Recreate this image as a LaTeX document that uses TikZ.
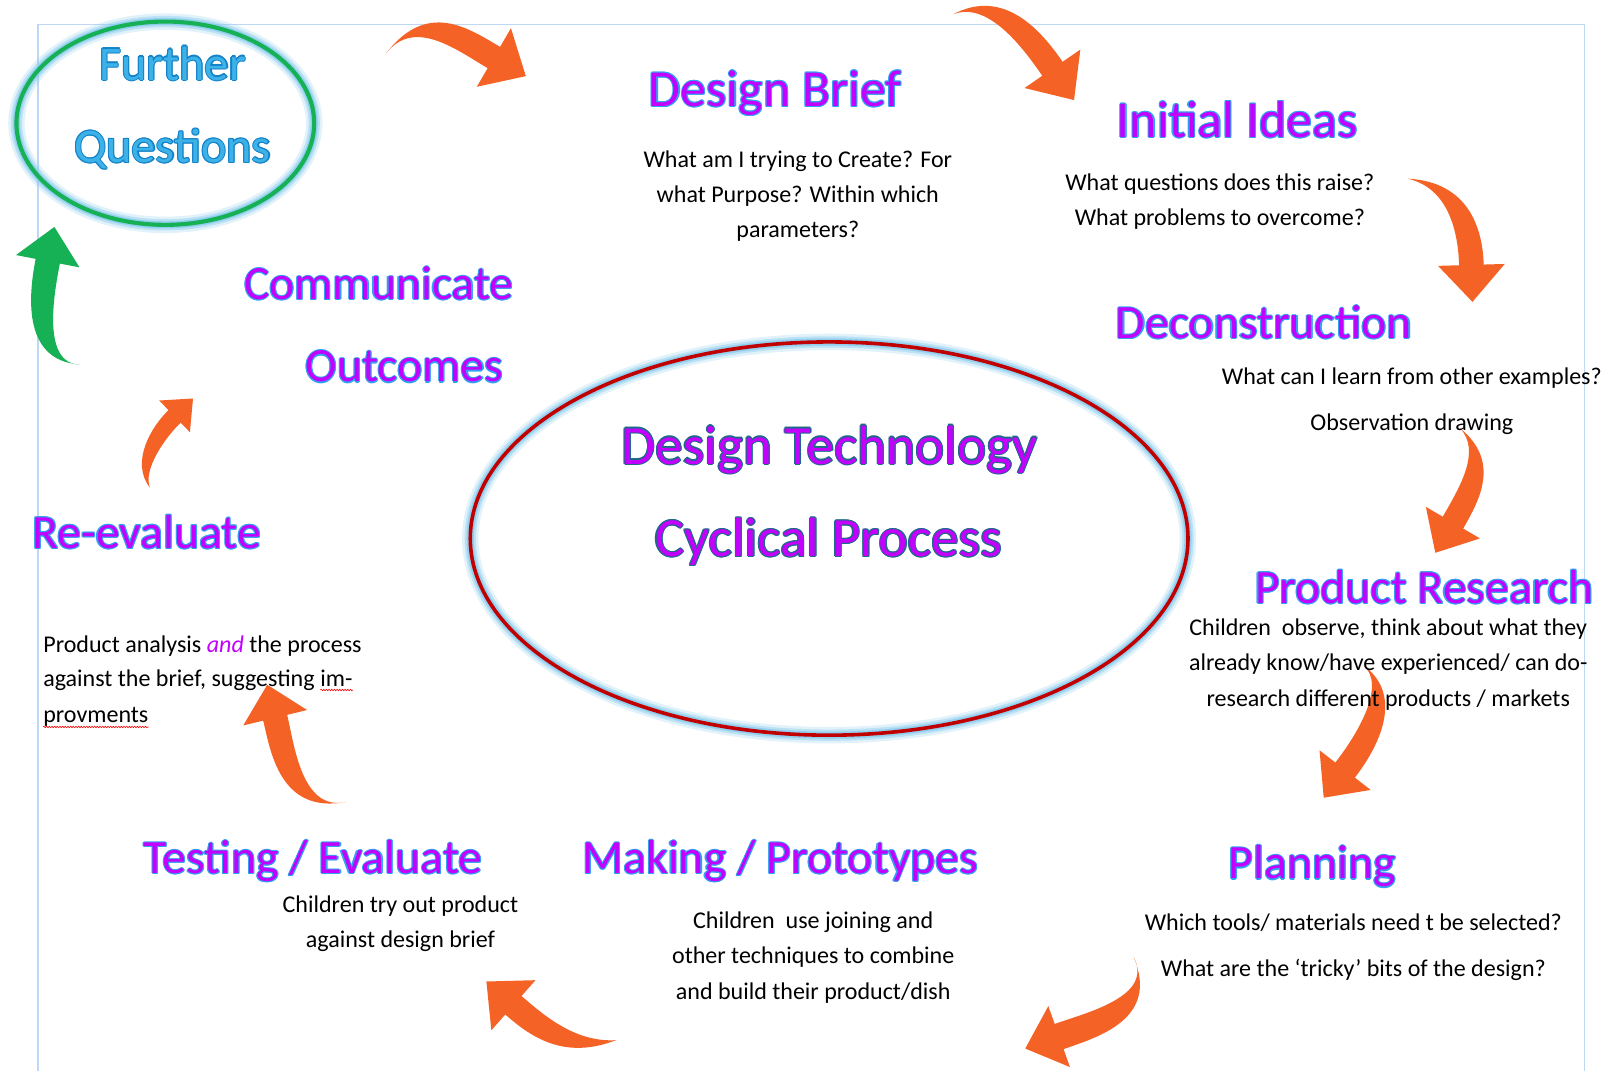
\documentclass[tikz,border=0pt]{standalone}
\usepackage{fontspec}
\setmainfont{Carlito}
\usetikzlibrary{calc,decorations.pathmorphing}
\definecolor{orng}{RGB}{245,98,37}
\definecolor{grn}{RGB}{22,176,85}
\definecolor{hfill}{RGB}{196,0,255}
\definecolor{hline}{RGB}{50,160,240}
\definecolor{cline}{RGB}{30,105,135}
\definecolor{fqfill}{RGB}{60,178,232}
\definecolor{fqline}{RGB}{20,130,200}
\definecolor{glowc}{RGB}{140,205,238}
\definecolor{dred}{RGB}{192,0,0}
\definecolor{marginc}{RGB}{190,215,245}
\tikzset{
 bodytxt/.style={font=\fontsize{23.4}{34}\selectfont, inner sep=0pt, anchor=base, text=black},
 hd/.style={font=\fontsize{46.5}{56}\selectfont, inner sep=0pt, anchor=base},
 hdbig/.style={font=\fontsize{50.5}{60}\selectfont, inner sep=0pt, anchor=base},
 ct/.style={font=\fontsize{53.8}{64}\selectfont, inner sep=0pt, anchor=base},
 fq/.style={font=\fontsize{47}{56}\selectfont, inner sep=0pt, anchor=base},
 arr/.style={fill=orng},
 garr/.style={fill=grn},
 wavy/.style={red, line width=0.6pt, decorate, decoration={snake, amplitude=0.7pt, segment length=2.6pt}},
}
% name, coordinate, style, outline colour, fill colour, text
\newcommand\glowtext[6]{%
 \foreach \a in {0,45,...,315}{\node[#3, text=#4] at ([shift={(\a:1.1pt)}]#2) {#6};}
 \node[#3, text=#5] (#1) at (#2) {#6};}
% style, tail, c1, c2, base, half body width, half head width, head length
\newcommand\carrow[8]{%
 \fill[#1] (#2) .. controls ($(#3)!#6*0.9!90:(#4)$) and ($(#4)!#6!90:(#5)$) .. ($(#5)!#6!-90:(#4)$)
   -- ($(#5)!#7!-90:(#4)$) -- ($(#5)!-#8!(#4)$) -- ($(#5)!#7!90:(#4)$) -- ($(#5)!#6!90:(#4)$)
   .. controls ($(#4)!#6!-90:(#5)$) and ($(#3)!#6*0.9!-90:(#4)$) .. (#2) -- cycle;}
% centre, rx, ry, colour, width
\newcommand\glowellipse[5]{%
 \draw[glowc, line width=16pt, opacity=.25] (#1) ellipse [x radius=#2, y radius=#3];
 \draw[glowc, line width=11pt, opacity=.45] (#1) ellipse [x radius=#2, y radius=#3];
 \draw[glowc, line width=7pt, opacity=.85] (#1) ellipse [x radius=#2, y radius=#3];
 \draw[#4, line width=#5] (#1) ellipse [x radius=#2, y radius=#3];}
\begin{document}
\begin{tikzpicture}[x=1pt,y=-1pt]
\useasboundingbox (0,0) rectangle (1568,1043);
\fill[white] (0,0) rectangle (1568,1043);
\draw[marginc, line width=1pt] (37,1043) -- (37,24) -- (1543,24) -- (1543,1043);
% ellipses
\coordinate (fqc) at (161,120);
\coordinate (cc) at (807.5,524.5);
\glowellipse{fqc}{145}{99}{grn}{4pt}
\glowellipse{cc}{349.5}{191.5}{dred}{3.5pt}
% arrows
\carrow{arr}{376,52}{410,8}{451,38.5}{481,56}{12pt}{33pt}{36pt}
\carrow{arr}{928,14}{970,-6}{1005,38}{1025,67}{12pt}{33pt}{37pt}
\carrow{arr}{1371,174}{1420,180}{1432,223}{1433,258}{12pt}{32.5pt}{36pt}
\carrow{arr}{1422,417}{1451.5,444}{1432.5,479}{1415,509}{11.5pt}{30.5pt}{34pt}
\carrow{arr}{1328,648}{1359.6,673}{1331.7,722}{1310,750}{12pt}{31.5pt}{34pt}
\carrow{arr}{1104,932}{1127,981.5}{1064,998}{1031.5,1009.5}{13pt}{31.5pt}{35pt}
\carrow{arr}{600,1013}{556,1024}{525,1001}{500,979}{12pt}{32.5pt}{35pt}
\carrow{arr}{337,781}{283,792}{275,728}{268,699}{12pt}{32pt}{33pt}
\carrow{arr}{146,475}{132.7,453.7}{154,421}{170,405.5}{8.5pt}{21.5pt}{25pt}
\carrow{garr}{78,355}{29.6,353}{40.8,283.8}{46.5,254.4}{12pt}{31.5pt}{34pt}
% headings
\glowtext{fq1}{168,78}{fq}{fqline}{fqfill}{Further}
\glowtext{fq2}{168,158}{fq}{fqline}{fqfill}{Questions}
\glowtext{dbh}{755,104}{hdbig}{hline}{hfill}{Design Brief}
\glowtext{iih}{1205,134}{hdbig}{hline}{hfill}{Initial Ideas}
\glowtext{dch}{1231,330}{hd}{hline}{hfill}{Deconstruction}
\glowtext{co1}{369,292}{hd}{hline}{hfill}{Communicate}
\glowtext{co2}{394,372}{hd}{hline}{hfill}{Outcomes}
\glowtext{ct1}{808,452}{ct}{cline}{hfill}{Design Technology}
\glowtext{ct2}{807,542}{ct}{cline}{hfill}{Cyclical Process}
\glowtext{reh}{143,534}{hd}{hline}{hfill}{Re-evaluate}
\glowtext{prh}{1387,588}{hd}{hline}{hfill}{Product Research}
\glowtext{teh}{305,851}{hd}{hline}{hfill}{Testing / Evaluate}
\glowtext{mah}{760,851}{hd}{hline}{hfill}{Making / Prototypes}
\glowtext{plh}{1278,856}{hd}{hline}{hfill}{Planning}
% body texts
\node[bodytxt] (db1) at (777,163) {What am I trying to Create? For};
\node[bodytxt] (db2) at (777,197) {what Purpose? Within which};
\node[bodytxt] (db3) at (777,231) {parameters?};
\node[bodytxt] (ii1) at (1188,186) {What questions does this raise?};
\node[bodytxt] (ii2) at (1188,220) {What problems to overcome?};
\node[bodytxt] (dc1) at (1375,374) {What can I learn from other examples?};
\node[bodytxt] (dc2) at (1375,419) {Observation drawing};
\node[bodytxt] (pr1) at (1352,619) {Children~ observe, think about what they};
\node[bodytxt] (pr2) at (1352,653) {already know/have experienced/ can do-};
\node[bodytxt] (pr3) at (1352,688) {research different products / markets};
\node[bodytxt] (pl1) at (1318,906) {Which tools/ materials need t be selected?};
\node[bodytxt] (pl2) at (1318,951) {What are the ‘tricky’ bits of the design?};
\node[bodytxt] (ma1) at (792,904) {Children~ use joining and};
\node[bodytxt] (ma2) at (792,938) {other techniques to combine};
\node[bodytxt] (ma3) at (792,973) {and build their product/dish};
\node[bodytxt] (te1) at (390,889) {Children try out product};
\node[bodytxt] (te2) at (390,923) {against design brief};
\node[bodytxt, anchor=base west] (re1) at (42,635) {Product analysis \textcolor{hfill}{\textit{and}} the process};
\node[bodytxt, anchor=base west] (re2) at (42,669) {against the brief, suggesting};
\node[bodytxt, anchor=base west] (re2b) at ([xshift=5.3pt]re2.base east) {im-};
\node[bodytxt, anchor=base west] (re3) at (42,704) {provments};
\draw[wavy] ([yshift=-3pt]re2b.base west) -- ([yshift=-3pt]re2b.base east);
\draw[wavy] ([yshift=-4pt]re3.base west) -- ([yshift=-4pt]re3.base east);
\end{tikzpicture}
\end{document}
